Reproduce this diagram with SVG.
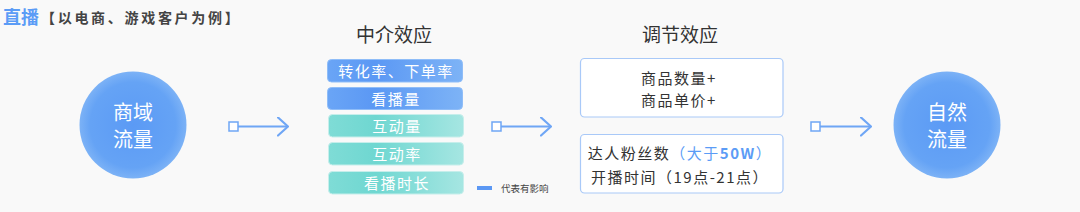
<svg xmlns="http://www.w3.org/2000/svg" width="1080" height="212" viewBox="0 0 1080 212">
<defs>
<radialGradient id="gCircle" cx="0.5" cy="0.5" r="0.5">
<stop offset="0" stop-color="#5b9af5"/>
<stop offset="0.8" stop-color="#65a3f5"/>
<stop offset="1" stop-color="#7cb2f6"/>
</radialGradient>
<linearGradient id="gBlue" x1="0" y1="0" x2="1" y2="0">
<stop offset="0" stop-color="#6aa5f6"/>
<stop offset="0.35" stop-color="#5b98f4"/>
<stop offset="1" stop-color="#7db3f6"/>
</linearGradient>
<linearGradient id="gTeal" x1="0" y1="0" x2="1" y2="0">
<stop offset="0" stop-color="#7fdcd6"/>
<stop offset="0.35" stop-color="#6fd7d1"/>
<stop offset="1" stop-color="#a6e6e2"/>
</linearGradient>
<marker id="arrow" viewBox="0 0 12 20" refX="11" refY="10" markerWidth="12" markerHeight="20" markerUnits="userSpaceOnUse" orient="auto">
<path d="M1,1 L11,10 L1,19" fill="none" stroke="#6fa6f5" stroke-width="2.2" stroke-linecap="round" stroke-linejoin="round"/>
</marker>
</defs>
<style>
.cn{font-family:"Noto Sans CJK SC","Noto Sans",sans-serif;}
.circ{fill:url(#gCircle);}
.ctext{font-size:20px;fill:#ffffff;text-anchor:middle;}
.head{font-size:19px;fill:#333333;text-anchor:middle;}
.bb{fill:url(#gBlue);stroke:#8fbdf8;stroke-width:1;}
.tb{fill:url(#gTeal);stroke:#c6eeeb;stroke-width:1;}
.btext{font-size:15px;fill:#ffffff;text-anchor:middle;letter-spacing:1.5px;}
.wbox{fill:#ffffff;stroke:#a9c9f8;stroke-width:1.2;}
.wtext{font-size:15px;fill:#333333;text-anchor:middle;letter-spacing:1.5px;}
.conn{stroke:#6fa6f5;stroke-width:2;fill:none;}
.sq{fill:#ffffff;stroke:#6fa6f5;stroke-width:1.5;}
</style>
<rect x="0" y="0" width="1080" height="212" fill="#f9f9f9"/>
<g id="title">
<text class="cn" x="3" y="24" font-size="18" font-weight="bold" fill="#5b9cf6">直播</text>
<text class="cn" x="41" y="23" font-size="14" font-weight="bold" fill="#444444" letter-spacing="2.7">【以电商、游戏客户为例】</text>
</g>
<g id="node-shangyu">
<circle class="circ" cx="133" cy="125" r="53.5"/>
<text class="cn ctext" x="133" y="120">商域</text>
<text class="cn ctext" x="133" y="147">流量</text>
</g>
<g id="node-mediation">
<text class="cn head" x="394" y="42">中介效应</text>
<rect class="bb" x="327.5" y="59.5" width="135" height="22.5" rx="4"/>
<text class="cn btext" x="396" y="76.5">转化率、下单率</text>
<rect class="bb" x="327.5" y="87.5" width="135" height="22" rx="4"/>
<text class="cn btext" x="396" y="104.5">看播量</text>
<rect class="tb" x="328.5" y="114.5" width="135" height="22.5" rx="4"/>
<text class="cn btext" x="397" y="131.5">互动量</text>
<rect class="tb" x="328.5" y="142.5" width="135" height="22.5" rx="4"/>
<text class="cn btext" x="397" y="159.5">互动率</text>
<rect class="tb" x="328.5" y="171.5" width="135" height="22.5" rx="4"/>
<text class="cn btext" x="397" y="188.5">看播时长</text>
</g>
<g id="legend">
<rect x="477" y="186" width="15" height="4" fill="#5b98f4"/>
<text class="cn" x="501" y="191.5" font-size="9.5" fill="#444444">代表有影响</text>
</g>
<g id="node-moderation">
<text class="cn head" x="680" y="42">调节效应</text>
<rect class="wbox" x="580.5" y="58.5" width="202.5" height="58.5" rx="4"/>
<text class="cn wtext" x="679" y="83.5">商品数量+</text>
<text class="cn wtext" x="679" y="105.5">商品单价+</text>
<rect class="wbox" x="580.5" y="134.5" width="202.5" height="58.5" rx="4"/>
<text class="cn wtext" x="680" y="158.5">达人粉丝数<tspan fill="#5b9cf6">（大于<tspan font-weight="bold">50W</tspan>）</tspan></text>
<text class="cn wtext" x="680" y="182.5">开播时间（19点-21点）</text>
</g>
<g id="node-ziran">
<circle class="circ" cx="947" cy="125" r="53.5"/>
<text class="cn ctext" x="947" y="120">自然</text>
<text class="cn ctext" x="947" y="147">流量</text>
</g>
<g id="connectors">
<line class="conn" x1="238" y1="126.5" x2="288" y2="126.5" marker-end="url(#arrow)"/>
<rect class="sq" x="229" y="122" width="9" height="9"/>
<line class="conn" x1="500" y1="126.5" x2="551" y2="126.5" marker-end="url(#arrow)"/>
<rect class="sq" x="492" y="122" width="9" height="9"/>
<line class="conn" x1="820" y1="126.5" x2="871" y2="126.5" marker-end="url(#arrow)"/>
<rect class="sq" x="811" y="122" width="9" height="9"/>
</g>
</svg>
